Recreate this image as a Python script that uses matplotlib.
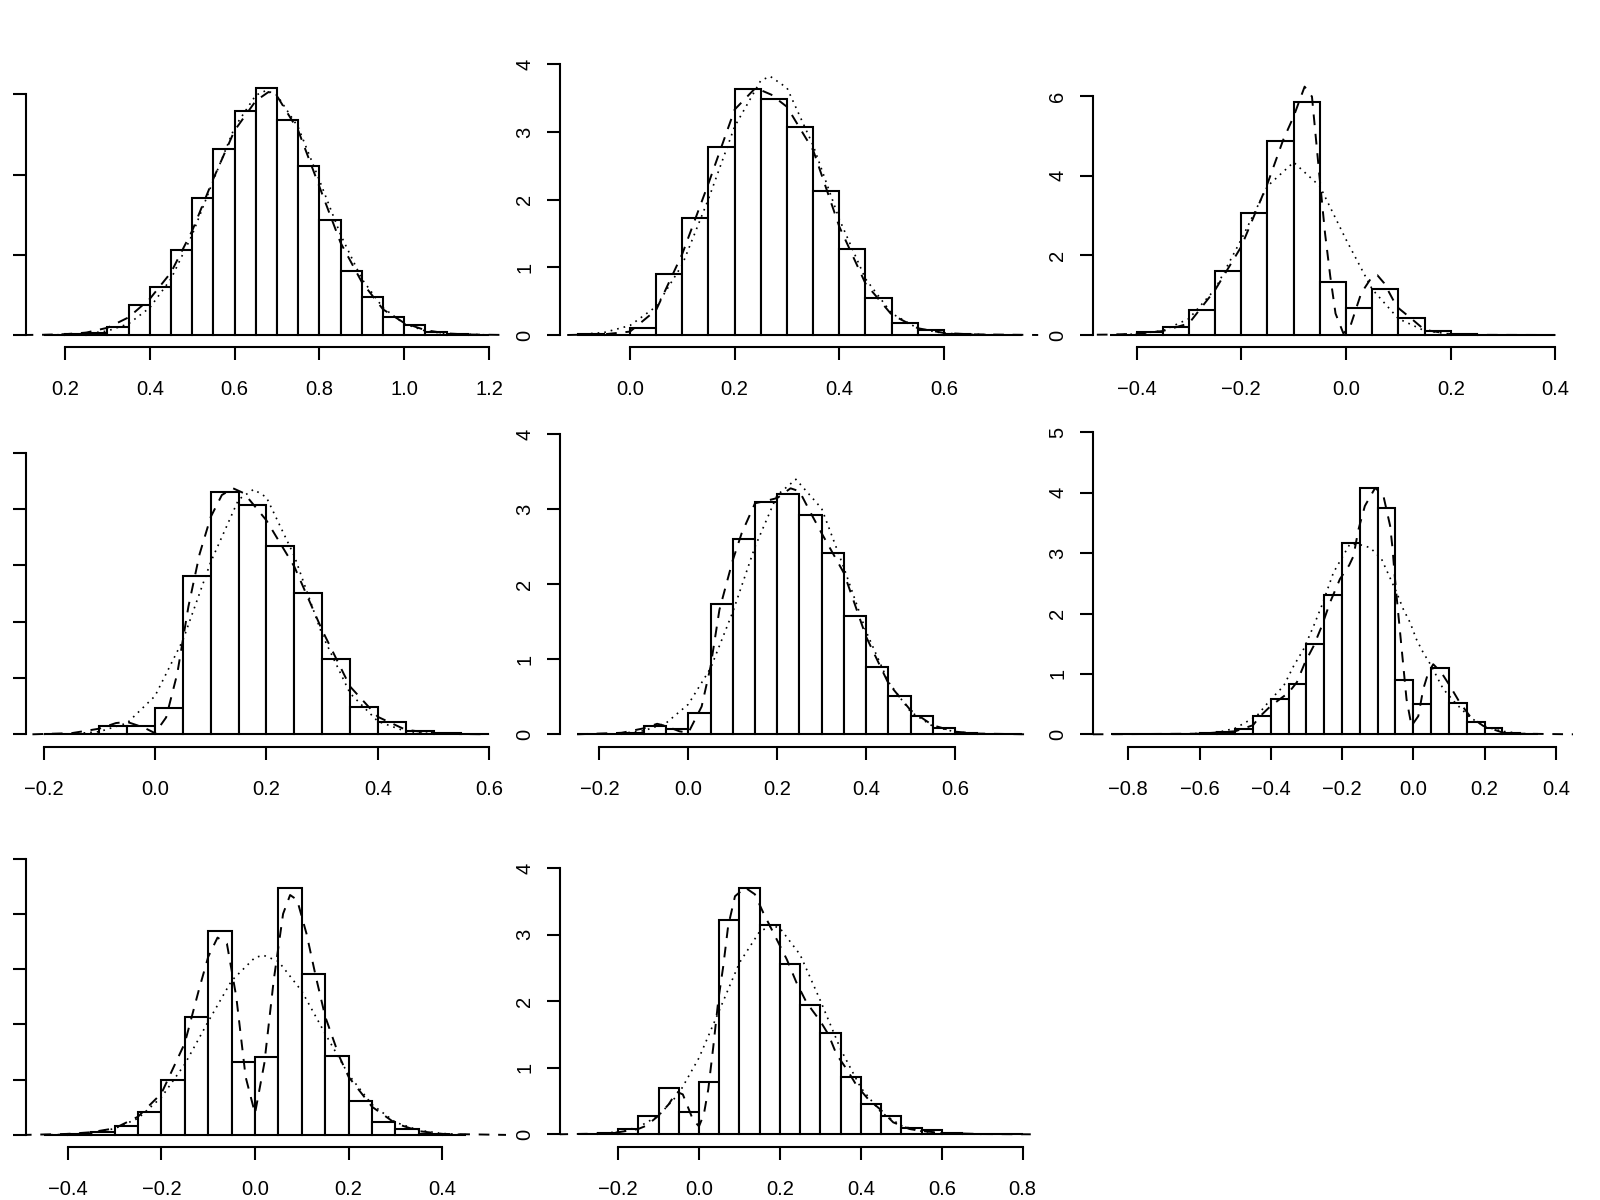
import numpy as np
import matplotlib
matplotlib.use('Agg')
import matplotlib.pyplot as plt

BIN = 0.05

# --- panel 1 ---
p1_start = 0.15
p1_heights = [0.005, 0.01, 0.03, 0.10, 0.38, 0.60, 1.06, 1.71, 2.32, 2.79, 3.08,
              2.68, 2.11, 1.43, 0.80, 0.47, 0.22, 0.12, 0.04, 0.01, 0.003]
p1_kde_x = [0.10, 0.15, 0.2, 0.25, 0.3, 0.35, 0.4, 0.45, 0.5, 0.55, 0.6, 0.65, 0.68,
            0.7, 0.75, 0.8, 0.85, 0.9, 0.95, 1.0, 1.05, 1.1, 1.15, 1.25]
p1_kde_y = [0.0, 0.003, 0.01, 0.03, 0.09, 0.22, 0.45, 0.78, 1.3, 1.95, 2.55, 2.92, 3.03,
            2.98, 2.55, 1.85, 1.15, 0.66, 0.32, 0.15, 0.06, 0.02, 0.006, 0.0]
p1_norm_x = [0.15, 0.2, 0.25, 0.3, 0.35, 0.4, 0.45, 0.5, 0.55, 0.6, 0.65, 0.675, 0.7,
             0.75, 0.8, 0.85, 0.9, 0.95, 1.0, 1.05, 1.1, 1.2]
p1_norm_y = [0.001, 0.004, 0.015, 0.05, 0.14, 0.34, 0.70, 1.25, 1.93, 2.59, 2.99, 3.05, 2.99,
             2.59, 1.93, 1.25, 0.70, 0.34, 0.14, 0.05, 0.016, 0.001]
p1_xticks = [0.2, 0.4, 0.6, 0.8, 1.0, 1.2]
p1_yticks = [0, 1, 2, 3]

# --- panel 2 ---
p2_start = -0.10
p2_heights = [0.02, 0.005, 0.10, 0.90, 1.73, 2.78, 3.63, 3.49, 3.07, 2.13, 1.27,
              0.54, 0.17, 0.07, 0.02, 0.005, 0.002]
p2_kde_x = [-0.12, -0.05, 0.0, 0.05, 0.1, 0.15, 0.2, 0.24, 0.27, 0.3, 0.35, 0.4, 0.45,
            0.5, 0.55, 0.6, 0.65, 0.78]
p2_kde_y = [0.0, 0.01, 0.05, 0.37, 1.2, 2.24, 3.33, 3.65, 3.55, 3.37, 2.73, 1.6, 0.76,
            0.3, 0.1, 0.03, 0.01, 0.0]
p2_norm_x = [-0.1, -0.05, 0.0, 0.05, 0.1, 0.15, 0.2, 0.25, 0.268, 0.3, 0.35, 0.4, 0.45,
             0.5, 0.55, 0.6, 0.7]
p2_norm_y = [0.007, 0.036, 0.14, 0.42, 1.04, 2.01, 3.08, 3.76, 3.82, 3.65, 2.80, 1.71, 0.83,
             0.32, 0.097, 0.024, 0.001]
p2_xticks = [0.0, 0.2, 0.4, 0.6]
p2_yticks = [0, 1, 2, 3, 4]

# --- panel 3 ---
p3_start = -0.45
p3_heights = [0.01, 0.07, 0.19, 0.63, 1.62, 3.07, 4.88, 5.85, 1.34, 0.67, 1.16,
              0.42, 0.09, 0.02, 0.005, 0.003, 0.002]
p3_kde_x = [-0.55, -0.45, -0.4, -0.35, -0.3, -0.25, -0.2, -0.15, -0.12, -0.1, -0.079,
            -0.065, -0.05, -0.04, -0.03, -0.02, -0.005, 0.008, 0.029, 0.05, 0.06, 0.073,
            0.097, 0.124, 0.15, 0.2, 0.25, 0.4]
p3_kde_y = [0.0, 0.01, 0.03, 0.1, 0.29, 1.13, 2.22, 3.8, 4.9, 5.49, 6.24,
            5.99, 3.9, 2.55, 1.47, 0.54, 0.04, 0.21, 1.05, 1.47, 1.5, 1.3,
            0.71, 0.42, 0.13, 0.02, 0.004, 0.0]
p3_norm_x = [-0.45, -0.4, -0.35, -0.3, -0.25, -0.2, -0.15, -0.1, -0.05, 0.0, 0.05, 0.1,
             0.15, 0.2, 0.25, 0.3]
p3_norm_y = [0.003, 0.022, 0.108, 0.41, 1.15, 2.40, 3.74, 4.34, 3.74, 2.40, 1.15, 0.41,
             0.108, 0.022, 0.003, 0.0]
p3_xticks = [-0.4, -0.2, 0.0, 0.2, 0.4]
p3_yticks = [0, 2, 4, 6]

# --- panel 4 ---
p4_start = -0.2
p4_heights = [0.005, 0.01, 0.15, 0.14, 0.46, 2.82, 4.31, 4.08, 3.34, 2.51, 1.34,
              0.49, 0.21, 0.06, 0.02, 0.005]
p4_kde_x = [-0.22, -0.15, -0.1, -0.07, -0.05, -0.02, 0.0, 0.02, 0.04, 0.06, 0.08, 0.1,
            0.12, 0.14, 0.16, 0.2, 0.25, 0.3, 0.35, 0.4, 0.45, 0.5, 0.55, 0.6]
p4_kde_y = [0.0, 0.02, 0.1, 0.2, 0.22, 0.12, 0.02, 0.3, 1.08, 2.27, 3.2, 3.86,
            4.25, 4.37, 4.28, 3.8, 2.98, 1.85, 0.85, 0.31, 0.08, 0.02, 0.005, 0.0]
p4_norm_x = [-0.2, -0.15, -0.1, -0.05, 0.0, 0.05, 0.1, 0.15, 0.177, 0.2, 0.25, 0.3, 0.35,
             0.4, 0.45, 0.5, 0.55]
p4_norm_y = [0.001, 0.007, 0.046, 0.20, 0.68, 1.67, 3.06, 4.17, 4.35, 4.21, 3.17, 1.77, 0.73,
             0.23, 0.052, 0.009, 0.001]
p4_xticks = [-0.2, 0.0, 0.2, 0.4, 0.6]
p4_yticks = [0, 1, 2, 3, 4, 5]

# --- panel 5 ---
p5_start = -0.25
p5_heights = [0.002, 0.005, 0.02, 0.11, 0.07, 0.28, 1.74, 2.61, 3.10, 3.21, 2.92,
              2.42, 1.58, 0.90, 0.51, 0.24, 0.09, 0.015, 0.005, 0.002]
p5_kde_x = [-0.25, -0.15, -0.1, -0.07, -0.05, -0.02, 0.0, 0.03, 0.05, 0.07, 0.1, 0.12,
            0.15, 0.18, 0.2, 0.23, 0.25, 0.28, 0.3, 0.35, 0.4, 0.45, 0.5, 0.55, 0.6,
            0.65, 0.76]
p5_kde_y = [0.0, 0.02, 0.08, 0.14, 0.11, 0.04, 0.02, 0.37, 0.9, 1.66, 2.32, 2.68,
            3.08, 3.12, 3.15, 3.28, 3.24, 2.9, 2.68, 2.15, 1.3, 0.68, 0.32, 0.12, 0.035,
            0.01, 0.0]
p5_norm_x = [-0.15, -0.1, -0.05, 0.0, 0.05, 0.1, 0.15, 0.2, 0.242, 0.3, 0.35, 0.4, 0.45,
             0.5, 0.55, 0.6, 0.65, 0.7]
p5_norm_y = [0.012, 0.047, 0.15, 0.40, 0.88, 1.63, 2.50, 3.19, 3.40, 3.01, 2.22, 1.37, 0.70,
             0.30, 0.107, 0.032, 0.008, 0.002]
p5_xticks = [-0.2, 0.0, 0.2, 0.4, 0.6]
p5_yticks = [0, 1, 2, 3, 4]

# --- panel 6 ---
p6_start = -0.85
p6_heights = [0.002, 0.002, 0.003, 0.005, 0.008, 0.015, 0.03, 0.09, 0.31, 0.58, 0.84,
              1.50, 2.30, 3.16, 4.07, 3.74, 0.90, 0.50, 1.09, 0.52, 0.20, 0.10, 0.015,
              0.003]
p6_kde_x = [-0.9, -0.6, -0.5, -0.45, -0.43, -0.4, -0.35, -0.327, -0.304, -0.28, -0.257,
            -0.234, -0.206, -0.18, -0.168, -0.154, -0.136, -0.107, -0.084, -0.065, -0.058,
            -0.053, -0.047, -0.037, -0.028, -0.019, -0.005, 0.014, 0.028, 0.042, 0.056,
            0.079, 0.103, 0.131, 0.159, 0.196, 0.25, 0.3, 0.45]
p6_kde_y = [0.0, 0.01, 0.05, 0.15, 0.30, 0.47, 0.69, 0.86, 1.19, 1.46, 1.79,
            2.18, 2.57, 2.8, 2.95, 3.39, 3.78, 4.08, 3.95, 3.45, 3.06,
            2.68, 2.29, 1.68, 1.13, 0.58, 0.14, 0.30, 0.75, 1.02, 1.16,
            1.02, 0.80, 0.52, 0.30, 0.14, 0.03, 0.01, 0.0]
p6_norm_x = [-0.65, -0.55, -0.5, -0.44, -0.4, -0.364, -0.336, -0.308, -0.28, -0.257,
             -0.224, -0.178, -0.15, -0.121, -0.089, -0.047, -0.028, -0.009, 0.009, 0.028,
             0.051, 0.07, 0.084, 0.121, 0.159, 0.2, 0.25, 0.3, 0.35]
p6_norm_y = [0.002, 0.03, 0.1, 0.30, 0.58, 0.80, 1.13, 1.41, 1.79, 2.13,
             2.68, 3.15, 3.14, 3.09, 2.9, 2.35, 2.07, 1.85, 1.57, 1.35,
             1.13, 0.91, 0.75, 0.50, 0.28, 0.13, 0.05, 0.015, 0.003]
p6_xticks = [-0.8, -0.6, -0.4, -0.2, 0.0, 0.2, 0.4]
p6_yticks = [0, 1, 2, 3, 4, 5]

# --- panel 7 ---
p7_start = -0.45
p7_heights = [0.005, 0.01, 0.06, 0.17, 0.41, 1.00, 2.14, 3.69, 1.32, 1.41, 4.47,
              2.92, 1.42, 0.62, 0.23, 0.11, 0.02, 0.005]
p7_kde_x = [-0.5, -0.4, -0.35, -0.3, -0.25, -0.2, -0.15, -0.12, -0.1, -0.08, -0.06,
            -0.04, -0.02, 0.0, 0.02, 0.04, 0.06, 0.075, 0.09, 0.11, 0.13, 0.15, 0.18,
            0.2, 0.25, 0.3, 0.35, 0.4, 0.55]
p7_kde_y = [0.0, 0.02, 0.05, 0.12, 0.33, 0.75, 1.66, 2.62, 3.22, 3.57, 3.46,
            2.5, 1.05, 0.39, 1.3, 2.8, 4.0, 4.34, 4.25, 3.64, 2.86, 2.14, 1.42,
            1.05, 0.51, 0.21, 0.07, 0.02, 0.0]
p7_norm_x = [-0.45, -0.4, -0.35, -0.3, -0.25, -0.2, -0.15, -0.1, -0.05, 0.0, 0.018, 0.05,
             0.1, 0.15, 0.2, 0.25, 0.3, 0.35, 0.4, 0.45]
p7_norm_y = [0.003, 0.01, 0.037, 0.115, 0.30, 0.68, 1.28, 2.05, 2.79, 3.21, 3.25, 3.14,
             2.60, 1.83, 1.09, 0.55, 0.23, 0.085, 0.027, 0.007]
p7_xticks = [-0.4, -0.2, 0.0, 0.2, 0.4]
p7_yticks = [0, 1, 2, 3, 4, 5]

# --- panel 8 ---
p8_start = -0.3
p8_heights = [0.005, 0.015, 0.08, 0.27, 0.69, 0.34, 0.78, 3.23, 3.70, 3.14, 2.56,
              1.94, 1.52, 0.86, 0.46, 0.27, 0.10, 0.06, 0.015, 0.005, 0.002, 0.001]
p8_kde_x = [-0.35, -0.25, -0.2, -0.15, -0.13, -0.1, -0.075, -0.055, -0.04, -0.03, -0.015,
            0.0, 0.012, 0.023, 0.035, 0.048, 0.06, 0.072, 0.089, 0.114, 0.138, 0.159,
            0.188, 0.217, 0.241, 0.266, 0.3, 0.32, 0.34, 0.365, 0.39, 0.418, 0.447,
            0.48, 0.52, 0.55, 0.6, 0.7, 0.82]
p8_kde_y = [0.0, 0.01, 0.03, 0.08, 0.13, 0.28, 0.45, 0.64, 0.6, 0.45, 0.22,
            0.12, 0.3, 0.68, 1.3, 2.03, 2.53, 3.13, 3.58, 3.71, 3.61, 3.33,
            2.98, 2.63, 2.28, 1.98, 1.7, 1.5, 1.2, 0.98, 0.73, 0.53, 0.38,
            0.18, 0.08, 0.05, 0.02, 0.004, 0.0]
p8_norm_x = [-0.25, -0.2, -0.15, -0.1, -0.05, 0.0, 0.05, 0.1, 0.15, 0.18, 0.2, 0.25,
             0.3, 0.35, 0.4, 0.45, 0.5, 0.55, 0.6, 0.65, 0.7]
p8_norm_y = [0.01, 0.036, 0.107, 0.28, 0.61, 1.15, 1.86, 2.58, 3.05, 3.14, 3.10, 2.70,
             2.01, 1.28, 0.70, 0.33, 0.13, 0.045, 0.013, 0.003, 0.001]
p8_xticks = [-0.2, 0.0, 0.2, 0.4, 0.6, 0.8]
p8_yticks = [0, 1, 2, 3, 4]

panels = [
    (p1_start, p1_heights, p1_kde_x, p1_kde_y, p1_norm_x, p1_norm_y, p1_xticks, p1_yticks),
    (p2_start, p2_heights, p2_kde_x, p2_kde_y, p2_norm_x, p2_norm_y, p2_xticks, p2_yticks),
    (p3_start, p3_heights, p3_kde_x, p3_kde_y, p3_norm_x, p3_norm_y, p3_xticks, p3_yticks),
    (p4_start, p4_heights, p4_kde_x, p4_kde_y, p4_norm_x, p4_norm_y, p4_xticks, p4_yticks),
    (p5_start, p5_heights, p5_kde_x, p5_kde_y, p5_norm_x, p5_norm_y, p5_xticks, p5_yticks),
    (p6_start, p6_heights, p6_kde_x, p6_kde_y, p6_norm_x, p6_norm_y, p6_xticks, p6_yticks),
    (p7_start, p7_heights, p7_kde_x, p7_kde_y, p7_norm_x, p7_norm_y, p7_xticks, p7_yticks),
    (p8_start, p8_heights, p8_kde_x, p8_kde_y, p8_norm_x, p8_norm_y, p8_xticks, p8_yticks),
]

# pixel layout: left edge, right edge, top edge, x-axis line, zero line,
# pixel of x=0, pixels per x unit, pixels per y unit
layout = [
    (26, 506, 30, 346.7, 335.0, -19.8, 424.0, 80.2),
    (560, 1040, 30, 346.7, 335.0, 630.0, 523.3, 67.7),
    (1093, 1573, 30, 346.7, 335.0, 1346.0, 523.7, 39.8),
    (26, 506, 420, 746.7, 734.3, 155.0, 557.1, 56.3),
    (560, 1040, 420, 746.7, 734.3, 688.3, 444.6, 75.0),
    (1093, 1573, 420, 746.7, 734.3, 1413.3, 356.2, 60.4),
    (26, 506, 825, 1146.7, 1135.0, 255.0, 468.25, 55.3),
    (560, 1040, 825, 1146.7, 1134.3, 699.0, 404.6, 66.5),
]

W, H = 1600, 1200
plt.rcParams['font.family'] = ['Liberation Sans', 'DejaVu Sans']
fig = plt.figure(figsize=(16, 12), dpi=100)

LW = 1.5
for i, ((start, heights, kx, ky, nx, ny, xt, yt), (l, r, t, ax_y, base, x0, ppx, ppy)) in \
        enumerate(zip(panels, layout)):
    ax = fig.add_axes([l / W, 1 - ax_y / H, (r - l) / W, (ax_y - t) / H])
    ax.set_xlim((l - x0) / ppx, (r - x0) / ppx)
    ax.set_ylim(-(ax_y - base) / ppy, (base - t) / ppy)

    edges = start + BIN * np.arange(len(heights))
    ax.bar(edges, heights, width=BIN, align='edge', color='white',
           edgecolor='black', linewidth=LW)
    ax.plot(kx, ky, color='black', linewidth=1.4, linestyle=(0, (5.5, 4.5)))
    ax.plot(nx, ny, color='black', linewidth=1.2, linestyle=(0, (1, 3)))

    for s in ('top', 'right'):
        ax.spines[s].set_visible(False)
    ax.spines['left'].set_linewidth(LW)
    ax.spines['bottom'].set_linewidth(LW)
    ax.spines['left'].set_bounds(yt[0], yt[-1])
    ax.spines['bottom'].set_bounds(xt[0], xt[-1])

    ax.set_xticks(xt)
    ax.set_xticklabels([f"{v:.1f}".replace('-', '\u2212') for v in xt])
    ax.set_yticks(yt)
    # the left column's y labels fall outside the cropped picture
    if i % 3 == 0:
        ax.set_yticklabels([])
    else:
        ax.set_yticklabels([str(v) for v in yt], rotation=90, va='center')
    ax.tick_params(axis='both', direction='out', length=9.7, width=LW, labelsize=14.5)
    ax.tick_params(axis='x', pad=14)
    ax.tick_params(axis='y', pad=9)
    ax.patch.set_visible(False)

fig.savefig('out.png', dpi=100)
